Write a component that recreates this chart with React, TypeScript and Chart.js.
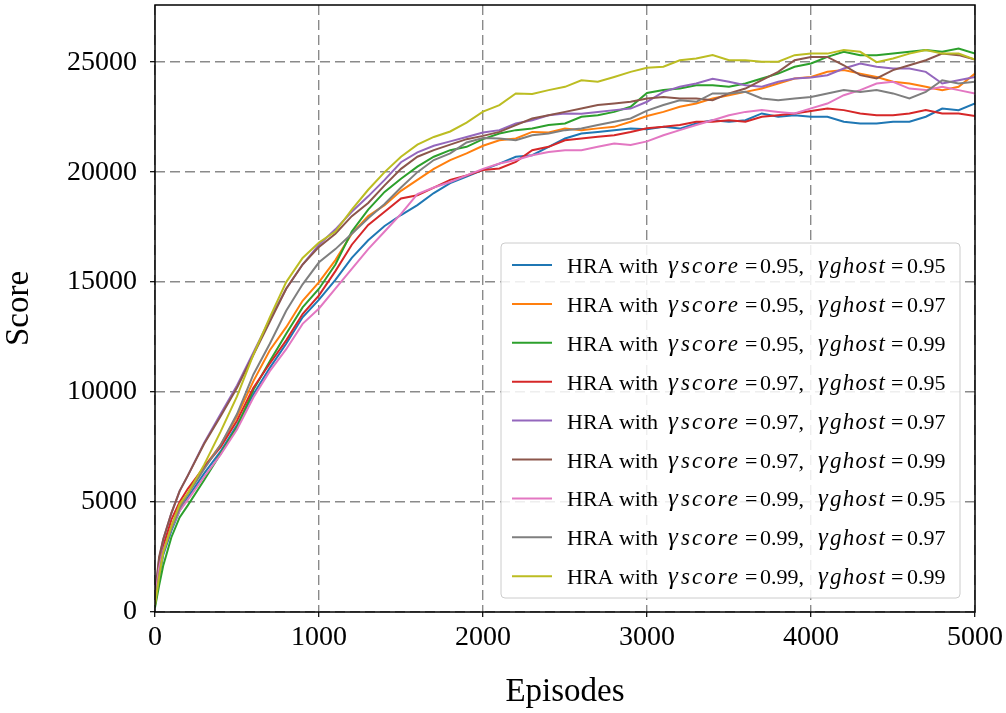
import { useEffect, useRef } from 'react';
import { Chart, registerables } from 'chart.js';

Chart.register(...registerables);

const FONT = '"Liberation Serif", "DejaVu Serif", "Times New Roman", serif';

const episodes = [0, 25, 50, 100, 150, 200, 300, 400, 500, 600, 700, 800, 900, 1000, 1100, 1200, 1300, 1400, 1500, 1600, 1700, 1800, 1900, 2000, 2100, 2200, 2300, 2400, 2500, 2600, 2700, 2800, 2900, 3000, 3100, 3200, 3300, 3400, 3500, 3600, 3700, 3800, 3900, 4000, 4100, 4200, 4300, 4400, 4500, 4600, 4700, 4800, 4900, 5000];

const s95g95 = [300, 1500, 2600, 3700, 4600, 5200, 6300, 7300, 8500, 9900, 11100, 12200, 13400, 14200, 15100, 16100, 16900, 17550, 18050, 18500, 19050, 19500, 19800, 20100, 20390, 20700, 20770, 21150, 21530, 21760, 21830, 21910, 21980, 21950, 22060, 21980, 22210, 22360, 22290, 22360, 22670, 22520, 22590, 22520, 22520, 22290, 22210, 22210, 22290, 22290, 22520, 22890, 22820, 23120];
const s95g97 = [400, 1800, 2800, 3900, 4800, 5400, 6600, 7600, 8900, 10500, 11900, 12950, 14150, 15000, 16000, 17200, 18000, 18500, 19150, 19650, 20150, 20550, 20850, 21200, 21450, 21530, 21830, 21800, 21980, 21910, 21990, 22060, 22290, 22550, 22740, 22970, 23120, 23350, 23500, 23650, 23800, 24030, 24260, 24330, 24560, 24640, 24480, 24330, 24110, 24030, 23880, 23730, 23880, 24480];
const s95g99 = [200, 1200, 2100, 3400, 4300, 4850, 6000, 7200, 8400, 10100, 11400, 12650, 13850, 14700, 15800, 17300, 18300, 19100, 19700, 20250, 20700, 21000, 21150, 21500, 21760, 21910, 21980, 22140, 22210, 22520, 22590, 22740, 22970, 23600, 23730, 23800, 23950, 23950, 23880, 24030, 24260, 24480, 24790, 24940, 25240, 25470, 25320, 25320, 25390, 25470, 25550, 25470, 25620, 25390];
const s97g95 = [500, 2000, 3000, 4200, 5000, 5600, 6600, 7500, 8700, 10200, 11300, 12350, 13550, 14400, 15500, 16700, 17600, 18200, 18800, 18950, 19300, 19650, 19850, 20100, 20170, 20470, 21000, 21150, 21450, 21530, 21610, 21680, 21830, 22000, 22060, 22140, 22290, 22290, 22360, 22290, 22520, 22590, 22670, 22780, 22890, 22820, 22670, 22590, 22590, 22670, 22820, 22670, 22670, 22550];
const s97g97 = [700, 2400, 3300, 4500, 5500, 6200, 7700, 9000, 10300, 11800, 13300, 14700, 15800, 16700, 17400, 18200, 18900, 19650, 20450, 20900, 21200, 21400, 21600, 21800, 21910, 22210, 22360, 22590, 22670, 22650, 22740, 22820, 22890, 23200, 23650, 23880, 24030, 24250, 24110, 23950, 23880, 24110, 24260, 24300, 24410, 24710, 24940, 24790, 24710, 24710, 24560, 24030, 24180, 24330];
const s97g99 = [800, 2500, 3300, 4500, 5500, 6200, 7650, 8900, 10200, 11700, 13200, 14700, 15800, 16600, 17200, 18000, 18600, 19400, 20150, 20700, 21000, 21250, 21500, 21650, 21830, 22140, 22440, 22590, 22740, 22890, 23050, 23120, 23200, 23350, 23420, 23350, 23350, 23270, 23580, 23800, 24180, 24560, 25090, 25240, 25240, 24860, 24410, 24260, 24640, 24860, 25090, 25390, 25320, 25120];
const s99g95 = [600, 2000, 2800, 3800, 4600, 5100, 6150, 7150, 8300, 9750, 10950, 11950, 13100, 13800, 14700, 15600, 16500, 17300, 18100, 19000, 19300, 19550, 19850, 20150, 20390, 20550, 20770, 20920, 21000, 21000, 21150, 21300, 21240, 21400, 21680, 21910, 22140, 22360, 22590, 22740, 22820, 22740, 22670, 22900, 23120, 23500, 23730, 24030, 24110, 23800, 23730, 23880, 23730, 23580];
const s99g97 = [400, 1700, 2700, 3800, 4700, 5350, 6500, 7600, 9000, 10800, 12200, 13700, 14900, 15900, 16500, 17200, 17900, 18550, 19300, 20000, 20550, 20850, 21350, 21550, 21530, 21450, 21680, 21760, 21910, 21980, 22140, 22290, 22440, 22800, 23050, 23270, 23200, 23580, 23580, 23650, 23350, 23270, 23350, 23420, 23580, 23730, 23650, 23730, 23580, 23350, 23650, 24180, 24030, 24110];
const s99g99 = [300, 1600, 2700, 3900, 4900, 5400, 6700, 8200, 9800, 11700, 13400, 15000, 16100, 16800, 17300, 18300, 19200, 20000, 20700, 21250, 21600, 21850, 22250, 22750, 23050, 23580, 23550, 23730, 23880, 24180, 24110, 24330, 24560, 24750, 24790, 25090, 25170, 25320, 25090, 25090, 25020, 25020, 25320, 25390, 25390, 25550, 25470, 25000, 25170, 25390, 25550, 25390, 25390, 25120];

const seriesValues = [s95g95, s95g97, s95g99, s97g95, s97g97, s97g99, s99g95, s99g97, s99g99];
const gammaScore = ['0.95', '0.95', '0.95', '0.97', '0.97', '0.97', '0.99', '0.99', '0.99'];
const gammaGhost = ['0.95', '0.97', '0.99', '0.95', '0.97', '0.99', '0.95', '0.97', '0.99'];
const colors = ['#1f77b4', '#ff7f0e', '#2ca02c', '#d62728', '#9467bd', '#8c564b', '#e377c2', '#7f7f7f', '#bcbd22'];

const xTicks = [0, 1000, 2000, 3000, 4000, 5000];
const yTicks = [0, 5000, 10000, 15000, 20000, 25000];

function fitText(ctx: CanvasRenderingContext2D, text: string, x: number, y: number, width: number, font: string) {
  ctx.font = font;
  const c: any = ctx;
  c.letterSpacing = '0px';
  const natural = ctx.measureText(text).width;
  const extra = (width - natural) / Math.max(1, text.length - 1);
  c.letterSpacing = `${extra.toFixed(2)}px`;
  ctx.fillText(text, x, y);
  c.letterSpacing = '0px';
}

const frameLegendPlugin = {
  id: 'frameLegend',
  afterDraw(chart: any) {
    const { ctx, chartArea: a } = chart;
    ctx.save();
    ctx.strokeStyle = '#000';
    ctx.lineWidth = 1.5;
    ctx.setLineDash([]);
    ctx.strokeRect(a.left, a.top, a.right - a.left, a.bottom - a.top);

    const w = 459;
    const h = 355;
    const bx = a.right - 15 - w;
    const by = a.bottom - 14 - h;
    const r = 4;
    ctx.beginPath();
    ctx.moveTo(bx + r, by);
    ctx.lineTo(bx + w - r, by);
    ctx.quadraticCurveTo(bx + w, by, bx + w, by + r);
    ctx.lineTo(bx + w, by + h - r);
    ctx.quadraticCurveTo(bx + w, by + h, bx + w - r, by + h);
    ctx.lineTo(bx + r, by + h);
    ctx.quadraticCurveTo(bx, by + h, bx, by + h - r);
    ctx.lineTo(bx, by + r);
    ctx.quadraticCurveTo(bx, by, bx + r, by);
    ctx.closePath();
    ctx.fillStyle = 'rgba(255,255,255,0.85)';
    ctx.fill();
    ctx.strokeStyle = '#cccccc';
    ctx.lineWidth = 1;
    ctx.stroke();

    const roman = `22px ${FONT}`;
    const italic = `italic 23px ${FONT}`;
    const gfont = `italic 25px ${FONT}`;
    ctx.textBaseline = 'alphabetic';
    ctx.textAlign = 'left';
    seriesValues.forEach((_, i) => {
      const cy = by + 22 + i * 38.9;
      ctx.strokeStyle = colors[i];
      ctx.lineWidth = 2;
      ctx.beginPath();
      ctx.moveTo(bx + 11, cy);
      ctx.lineTo(bx + 51, cy);
      ctx.stroke();
      const base = cy + 8;
      ctx.fillStyle = '#000';
      ctx.font = roman;
      ctx.fillText('HRA with', bx + 66, base);
      ctx.font = gfont;
      ctx.fillText('γ', bx + 167, base);
      fitText(ctx, 'score', bx + 180, base, 57, italic);
      ctx.font = roman;
      ctx.fillText('=', bx + 244, base);
      ctx.fillText(gammaScore[i] + ',', bx + 259, base);
      ctx.font = gfont;
      ctx.fillText('γ', bx + 317, base);
      fitText(ctx, 'ghost', bx + 329, base, 55, italic);
      ctx.font = roman;
      ctx.fillText('=', bx + 390, base);
      ctx.fillText(gammaGhost[i], bx + 406, base);
    });
    ctx.restore();
  },
};

export default function App() {
  const ref = useRef<HTMLCanvasElement | null>(null);
  useEffect(() => {
    if (!ref.current) return;
    const datasets = seriesValues.map((vals, i) => ({
      label: `HRA with γscore = ${gammaScore[i]}, γghost = ${gammaGhost[i]}`,
      data: vals.map((v, j) => ({ x: episodes[j], y: v })),
      borderColor: colors[i],
      backgroundColor: colors[i],
      borderWidth: 2,
      pointRadius: 0,
      tension: 0,
      fill: false,
      order: seriesValues.length - i,
    }));
    const gridOpts = {
      color: '#8a8a8a',
      lineWidth: 1.4,
      tickColor: '#000',
      tickLength: 5,
      tickWidth: 1.2,
      tickBorderDash: [],
    };
    const chart = new Chart(ref.current, {
      type: 'line',
      data: { datasets },
      options: {
        responsive: false,
        animation: false,
        devicePixelRatio: 1,
        layout: { padding: { left: 0, top: 5, right: 31, bottom: 0 } },
        plugins: { legend: { display: false }, tooltip: { enabled: false } },
        scales: {
          x: {
            type: 'linear',
            min: 0,
            max: 5000,
            afterBuildTicks: (s: any) => {
              s.ticks = xTicks.map((v) => ({ value: v }));
            },
            afterFit: (s: any) => {
              s.height = 101;
              s.paddingLeft = 0;
              s.paddingRight = 0;
            },
            ticks: {
              font: { family: FONT, size: 28 },
              color: '#000',
              padding: 4,
              maxRotation: 0,
              autoSkip: false,
              callback: (v: any) => String(v),
            },
            grid: gridOpts,
            border: { display: false, dash: [10, 5] },
            title: {
              display: true,
              text: 'Episodes',
              color: '#000',
              font: { family: FONT, size: 33 },
              padding: { top: 0, bottom: 1 },
            },
          },
          y: {
            type: 'linear',
            min: 0,
            max: 27600,
            afterBuildTicks: (s: any) => {
              s.ticks = yTicks.map((v) => ({ value: v }));
            },
            afterFit: (s: any) => {
              s.width = 155;
              s.paddingTop = 0;
              s.paddingBottom = 0;
            },
            ticks: {
              font: { family: FONT, size: 28 },
              color: '#000',
              padding: 13,
              autoSkip: false,
              callback: (v: any) => String(v),
            },
            grid: gridOpts,
            border: { display: false, dash: [10, 5] },
            title: {
              display: true,
              text: 'Score',
              color: '#000',
              font: { family: FONT, size: 33 },
              padding: { top: 0, bottom: 0 },
            },
          },
        },
      },
      plugins: [frameLegendPlugin],
    } as any);
    return () => chart.destroy();
  }, []);
  return (
    <div style={{ position: 'absolute', left: 0, top: 0, width: 1006, height: 713 }}>
      <canvas ref={ref} width={1006} height={713} style={{ display: 'block', width: 1006, height: 713 }} />
    </div>
  );
}
